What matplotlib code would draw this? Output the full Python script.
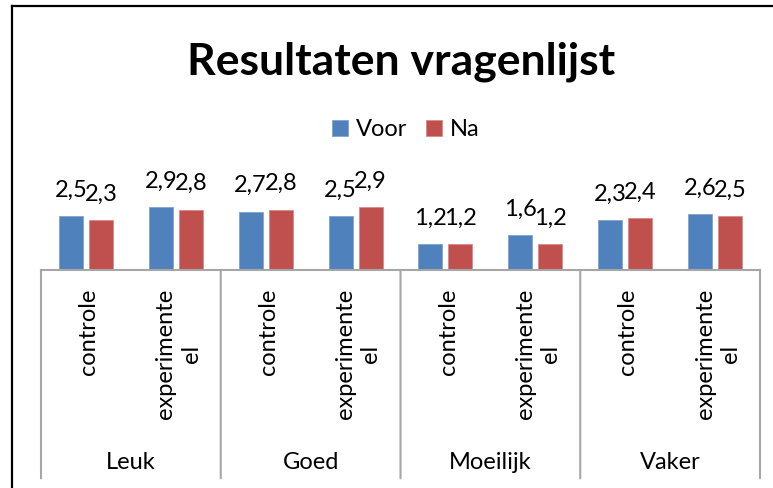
import matplotlib
matplotlib.use('Agg')
import matplotlib.pyplot as plt
from matplotlib.lines import Line2D

plt.rcParams['font.family'] = ['Lato', 'DejaVu Sans']

groups = ['Leuk', 'Goed', 'Moeilijk', 'Vaker']
subcats = ['controle', 'experimente\nel']
voor = [2.5, 2.9, 2.7, 2.5, 1.2, 1.6, 2.3, 2.6]
na = [2.3, 2.8, 2.8, 2.9, 1.2, 1.2, 2.4, 2.5]

blue = '#4F81BD'
red = '#C0504D'
grid_col = '#A6A6A6'
fs = 17

W, H = 773, 488
fig = plt.figure(figsize=(W / 100, H / 100), dpi=100)

# outer chart border (left and top visible)
fig.add_artist(Line2D([12 / W, 12 / W], [0, 1 - 6 / H], color='black', lw=1.6))
fig.add_artist(Line2D([12 / W, 1], [1 - 6 / H, 1 - 6 / H], color='black', lw=1.6))

# axes: baseline at y=270 px, x from 41 to 760 px
px_per_unit = 21.6
ymax = 3.5
base = 270
ax = fig.add_axes([41 / W, (H - base) / H, (760 - 41) / W, ymax * px_per_unit / H])
ax.set_xlim(-0.5, 7.5)
ax.set_ylim(0, ymax)
ax.axis('off')

x = list(range(len(voor)))
w = 0.267
off = 0.167
b1 = ax.bar([i - off for i in x], voor, w, color=blue, edgecolor='#7FA3D0', lw=0.6, label='Voor')
b2 = ax.bar([i + off for i in x], na, w, color=red, edgecolor='#D98A88', lw=0.6, label='Na')

def fmt(v):
    return f'{v:.1f}'.replace('.', ',')

for bars, vals in ((b1, voor), (b2, na)):
    for r, v in zip(bars, vals):
        ax.annotate(fmt(v), (r.get_x() + r.get_width() / 2, v), xytext=(0, 14),
                    textcoords='offset points', ha='center', va='baseline',
                    fontsize=fs, clip_on=False)

# category axis
ax.plot([-0.5, 7.5], [0, 0], color=grid_col, lw=1.5, clip_on=False)
for g in range(len(groups) + 1):
    ax.annotate('', xy=(g * 2 - 0.5, 0), xycoords='data',
                xytext=(0, -150), textcoords='offset points',
                arrowprops=dict(arrowstyle='-', color=grid_col, lw=1.5,
                                shrinkA=0, shrinkB=0))

for i in x:
    ax.annotate(subcats[i % 2], (i + 0.03, 0), xytext=(0, -13.5),
                textcoords='offset points', rotation=90, ha='center', va='top',
                multialignment='center', fontsize=fs, linespacing=1.25)

for g, name in enumerate(groups):
    ax.annotate(name, (g * 2 + 0.5, 0), xytext=(0, -143),
                textcoords='offset points', ha='center', va='baseline', fontsize=fs)

fig.text(401 / W, 1 - 75 / H, 'Resultaten vragenlijst', ha='center', va='baseline',
         fontsize=32, fontweight='bold')

fig.legend(handles=[b1, b2], loc='center', bbox_to_anchor=(406 / W, 1 - 130 / H),
           ncol=2, frameon=False, fontsize=fs, handlelength=0.65, handleheight=0.65,
           handletextpad=0.35, columnspacing=0.8, borderpad=0)

fig.savefig('out.png', dpi=100)
